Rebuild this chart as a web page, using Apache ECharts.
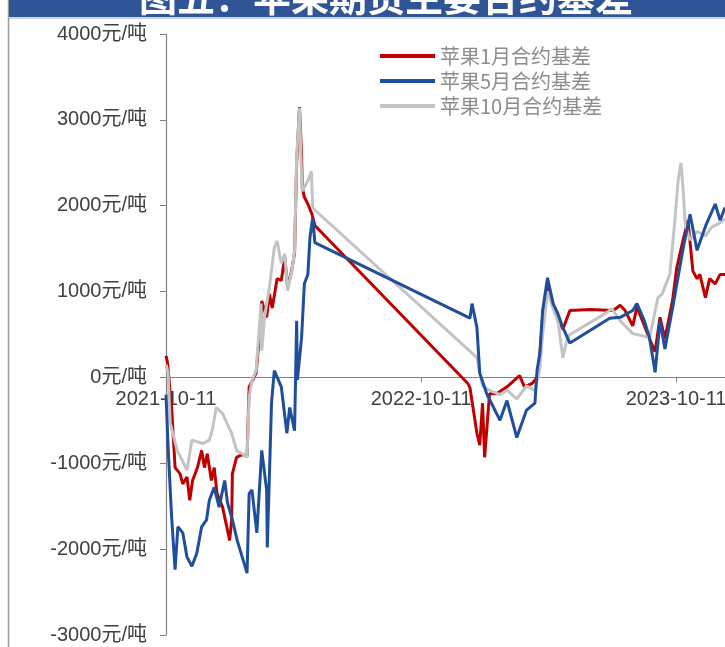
<!DOCTYPE html>
<html><head><meta charset="utf-8">
<script src="https://cdn.jsdelivr.net/npm/echarts@6.0.0/dist/echarts.min.js"></script>
<style>html,body{margin:0;padding:0;background:#fff}#c{width:725px;height:647px}</style>
</head><body><div id="c"></div>
<script>
const START = '2021-10-11';
const xTickLabels = ['2021-10-11', '2022-10-11', '2023-10-11'];
const titleText = '图五：苹果期货主要合约基差';
const seriesNames = ['苹果1月合约基差', '苹果5月合约基差', '苹果10月合约基差'];

const redDates = ['2021-10-11','2021-10-13','2021-10-19','2021-10-24','2021-10-31','2021-11-04','2021-11-10','2021-11-14','2021-11-18','2021-11-25','2021-12-01','2021-12-05','2021-12-09','2021-12-15','2021-12-19','2021-12-23','2021-12-31','2022-01-06','2022-01-10','2022-01-13','2022-01-14','2022-01-20','2022-01-28','2022-02-04','2022-02-07','2022-02-17','2022-02-24','2022-02-25','2022-03-04','2022-03-08','2022-03-12','2022-03-19','2022-03-25','2022-03-30','2022-04-03','2022-04-09','2022-04-13','2022-04-16','2022-04-20','2022-04-23','2022-04-24','2022-04-27','2022-05-02','2022-05-08','2022-05-12','2022-12-17','2022-12-20','2022-12-30','2023-01-03','2023-01-07','2023-01-10','2023-01-17','2023-01-27','2023-02-11','2023-03-01','2023-03-08','2023-03-19','2023-03-26','2023-03-30','2023-04-03','2023-04-10','2023-04-18','2023-04-25','2023-05-02','2023-05-12','2023-06-10','2023-07-13','2023-07-23','2023-07-30','2023-08-10','2023-08-16','2023-09-03','2023-09-11','2023-09-18','2023-09-25','2023-10-06','2023-10-12','2023-10-21','2023-10-28','2023-11-04','2023-11-10','2023-11-14','2023-11-22','2023-11-28','2023-12-06','2023-12-13','2023-12-20'];
const redValues = [250,180,-350,-1050,-1120,-1240,-1160,-1430,-1200,-1050,-850,-1050,-890,-1200,-1050,-1350,-1510,-1740,-1900,-1660,-1120,-930,-900,-920,-110,50,700,890,700,970,810,1150,1130,1400,1050,1250,1450,2500,3150,2600,2210,2100,2020,1900,1770,-70,-120,-650,-790,-300,-930,-190,-190,-110,20,-110,-70,0,250,700,1100,850,700,560,780,790,780,840,780,600,820,450,300,700,450,900,1280,1600,1830,1240,1150,1200,930,1150,1090,1200,1200];

const blueDates = ['2021-10-11','2021-10-14','2021-10-19','2021-10-24','2021-10-28','2021-11-04','2021-11-10','2021-11-17','2021-11-24','2021-12-01','2021-12-08','2021-12-12','2021-12-19','2021-12-26','2022-01-03','2022-01-07','2022-01-14','2022-01-21','2022-01-28','2022-02-04','2022-02-07','2022-02-11','2022-02-18','2022-02-25','2022-03-04','2022-03-05','2022-03-11','2022-03-15','2022-03-25','2022-04-02','2022-04-06','2022-04-13','2022-04-16','2022-04-17','2022-04-23','2022-04-27','2022-05-02','2022-05-05','2022-05-09','2022-05-12','2022-12-20','2022-12-23','2022-12-30','2023-01-03','2023-01-13','2023-02-01','2023-02-11','2023-02-25','2023-03-11','2023-03-23','2023-03-26','2023-03-30','2023-04-03','2023-04-10','2023-04-18','2023-04-25','2023-05-02','2023-05-12','2023-07-08','2023-07-23','2023-08-10','2023-08-16','2023-08-27','2023-09-03','2023-09-11','2023-09-18','2023-09-25','2023-10-06','2023-10-21','2023-10-31','2023-11-10','2023-11-23','2023-12-06','2023-12-13','2023-12-20'];
const blueValues = [-200,-810,-1620,-2240,-1740,-1810,-2090,-2200,-2050,-1740,-1660,-1430,-1280,-1510,-1200,-1460,-1660,-1900,-2090,-2280,-1350,-1310,-1810,-850,-1310,-1980,-300,80,-110,-650,-350,-620,660,-30,460,1090,1200,1630,1860,1570,690,860,580,50,-190,-500,-270,-700,-380,-300,80,280,780,1160,860,740,580,400,690,700,780,860,650,460,60,660,330,810,1500,1900,1480,1780,2020,1830,1980];

const grayDates = ['2021-10-11','2021-10-14','2021-10-17','2021-10-27','2021-11-10','2021-11-17','2021-12-03','2021-12-12','2021-12-16','2021-12-22','2021-12-31','2022-01-06','2022-01-13','2022-01-20','2022-01-28','2022-02-04','2022-02-07','2022-02-11','2022-02-17','2022-02-24','2022-02-25','2022-03-01','2022-03-08','2022-03-15','2022-03-19','2022-03-25','2022-03-30','2022-04-03','2022-04-09','2022-04-13','2022-04-16','2022-04-20','2022-04-23','2022-04-24','2022-05-02','2022-05-07','2022-05-09','2022-05-12','2022-12-30','2023-01-03','2023-01-07','2023-01-17','2023-02-01','2023-02-11','2023-02-25','2023-03-11','2023-03-23','2023-03-30','2023-04-03','2023-04-10','2023-04-18','2023-04-25','2023-05-02','2023-05-08','2023-05-12','2023-07-01','2023-07-11','2023-07-23','2023-08-10','2023-08-27','2023-09-03','2023-09-15','2023-09-21','2023-10-02','2023-10-09','2023-10-14','2023-10-18','2023-10-21','2023-10-24','2023-10-31','2023-11-10','2023-11-22','2023-12-01','2023-12-13','2023-12-20'];
const grayValues = [150,50,-530,-850,-1080,-730,-770,-730,-620,-350,-420,-530,-650,-850,-890,-930,-230,-35,80,860,310,700,1050,1510,1590,1330,1440,1010,1240,1470,2560,3140,2370,2170,2290,2400,1980,1950,230,50,-100,-150,-200,-150,-250,-100,-150,100,500,1000,800,650,230,450,500,740,800,660,510,480,460,930,970,1200,1800,2300,2500,2200,1790,1600,1700,1650,1750,1800,1850];

const DAY = 86400000;
const t0 = Date.parse(START);
function toDay(s) { return Math.round((Date.parse(s) - t0) / DAY); }
function build(dates, values) { return dates.map((d, i) => [toDay(d), values[i]]); }

const FONT = '"Liberation Sans", "Noto Sans CJK SC", sans-serif';
const chart = echarts.init(document.getElementById('c'));
chart.setOption({
  animation: false,
  backgroundColor: '#fff',
  graphic: [
    { type: 'line', shape: { x1: 8.5, y1: 0, x2: 8.5, y2: 647 }, style: { stroke: '#9a9a9a', lineWidth: 1.5 } },
    { type: 'rect', shape: { x: 9, y: 0, width: 716, height: 17 }, style: { fill: '#2f5597' } },
    { type: 'line', shape: { x1: 9, y1: 18, x2: 725, y2: 18 }, style: { stroke: '#b8c6dc', lineWidth: 1.5 } },
    { type: 'text', x: 386, y: -3, style: { text: titleText, fill: '#ffffff', font: 'bold 38px "Noto Sans CJK SC"', textAlign: 'center', textVerticalAlign: 'middle' } }
  ],
  grid: { left: 166, right: 0, top: 34, bottom: 12, containLabel: false, outerBoundsMode: 'none' },
  legend: {
    orient: 'vertical', left: 375, top: 40, itemWidth: 55, itemHeight: 4, itemGap: 3, icon: 'rect',
    data: seriesNames,
    textStyle: { fontSize: 20, color: '#8c8c8c', fontFamily: '"Noto Sans CJK SC", sans-serif', lineHeight: 22 }
  },
  xAxis: {
    type: 'value', min: 0, max: 800, interval: 365, position: 'bottom', offset: 0,
    axisLine: { onZero: false, lineStyle: { color: '#808080', width: 1.2 } },
    axisTick: { show: true, length: 5, lineStyle: { color: '#808080' } },
    splitLine: { show: false },
    axisLabel: {
      margin: 12, fontSize: 20, color: '#404040', fontFamily: FONT, showMaxLabel: false, hideOverlap: false,
      formatter: v => (v % 365 === 0 ? (xTickLabels[v / 365] || '') : '')
    }
  },
  yAxis: {
    type: 'value', min: -3000, max: 4000, interval: 1000,
    axisLine: { show: true, onZero: false, lineStyle: { color: '#808080', width: 1.2 } },
    axisTick: { show: true, length: 6, lineStyle: { color: '#808080' } },
    splitLine: { show: false },
    axisLabel: { margin: 19, fontSize: 20, color: '#404040', fontFamily: FONT, formatter: v => v + '元/吨' }
  },
  series: [
    { name: seriesNames[0], type: 'line', data: build(redDates, redValues), showSymbol: false, symbol: 'none', z: 2,
      lineStyle: { color: '#c00000', width: 3 }, itemStyle: { color: '#c00000' } },
    { name: seriesNames[1], type: 'line', data: build(blueDates, blueValues), showSymbol: false, symbol: 'none', z: 4,
      lineStyle: { color: '#1f4e9c', width: 3 }, itemStyle: { color: '#1f4e9c' } },
    { name: seriesNames[2], type: 'line', data: build(grayDates, grayValues), showSymbol: false, symbol: 'none', z: 3,
      lineStyle: { color: '#c3c3c3', width: 3 }, itemStyle: { color: '#c3c3c3' } }
  ]
});
// place the x axis on the y = 0 line, using the library's own y scale
const yZero = chart.convertToPixel({ yAxisIndex: 0 }, 0);
const yMin = chart.convertToPixel({ yAxisIndex: 0 }, -3000);
chart.setOption({ xAxis: { offset: yZero - yMin } });
</script>
</body></html>
